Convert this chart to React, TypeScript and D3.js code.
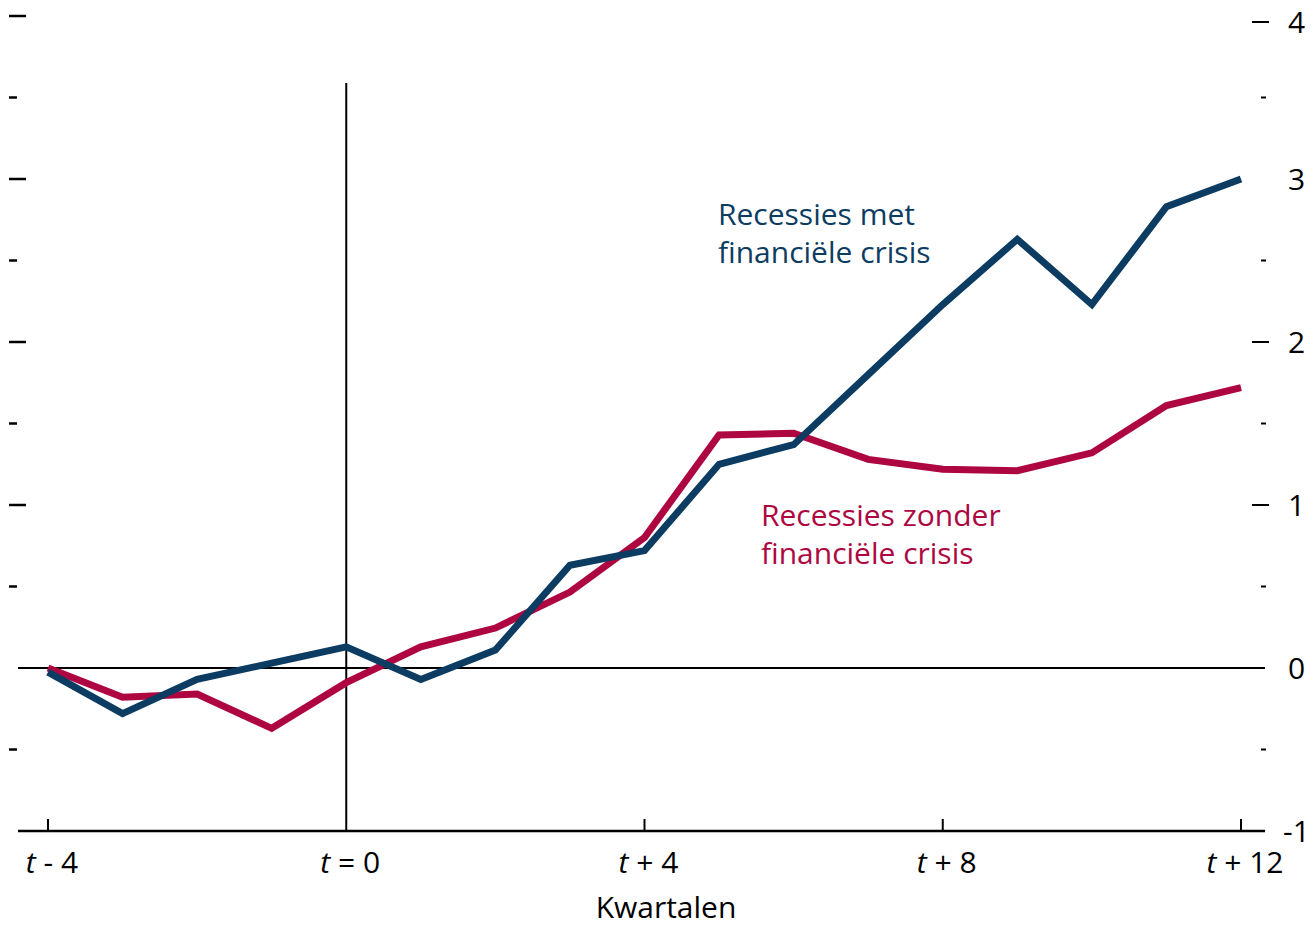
import React from "react";
import * as d3 from "d3";

const quarters = [-4, -3, -2, -1, 0, 1, 2, 3, 4, 5, 6, 7, 8, 9, 10, 11, 12];
const metCrisis = [-0.025, -0.28, -0.07, 0.03, 0.13, -0.07, 0.11, 0.63, 0.72, 1.25, 1.37, 1.8, 2.23, 2.63, 2.23, 2.83, 3.0];
const zonderCrisis = [0.0, -0.18, -0.16, -0.37, -0.09, 0.13, 0.245, 0.466, 0.8, 1.43, 1.44, 1.28, 1.22, 1.21, 1.32, 1.61, 1.72];
const xTicks = [-4, 0, 4, 8, 12];
const xTickLabels = ["- 4", "= 0", "+ 4", "+ 8", "+ 12"];
const yMajor = [4, 3, 2, 1, 0, -1];
const yMinor = [3.5, 2.5, 1.5, 0.5, -0.5];
const rightDashTicks = [4, 2, 1];
const xTitle = "Kwartalen";
const labelMet = ["Recessies met", "financiële crisis"];
const labelZonder = ["Recessies zonder", "financiële crisis"];

const BLUE = "#0c3c62";
const RED = "#ad0641";
const FONT = "'Open Sans', 'Noto Sans', sans-serif";
const FS = 30;

export default function App() {
  const W = 1311, H = 927;
  const x = d3.scaleLinear().domain([-4, 12]).range([48, 1241]);
  const y = d3.scaleLinear().domain([-1, 4]).range([831, 16]);
  const line = d3.line<number>().x((_, i) => x(quarters[i])).y(d => y(d));

  return (
    <svg width={W} height={H} style={{ position: "absolute", left: 0, top: 0, background: "#fff" }} fontFamily={FONT}>
      {/* left ticks */}
      {yMajor.filter(v => v !== 0 && v !== -1).map(v => (
        <line key={"lm" + v} x1={9} x2={26} y1={y(v)} y2={y(v)} stroke="#000" strokeWidth={2.5} />
      ))}
      {yMinor.map(v => (
        <line key={"ln" + v} x1={9} x2={17} y1={y(v)} y2={y(v)} stroke="#000" strokeWidth={2.5} />
      ))}
      {/* right ticks */}
      {rightDashTicks.map(v => (
        <line key={"rm" + v} x1={1252} x2={1269} y1={Math.max(y(v), 22)} y2={Math.max(y(v), 22)} stroke="#000" strokeWidth={2} />
      ))}
      {yMinor.map(v => (
        <line key={"rn" + v} x1={1261} x2={1266} y1={y(v)} y2={y(v)} stroke="#000" strokeWidth={2} />
      ))}
      {yMajor.map(v => (
        <text key={"rl" + v} x={v < 0 ? 1283 : 1288} y={Math.max(y(v), 22)} dy="0.35em" fontSize={FS} fill="#000">{v}</text>
      ))}
      {/* zero line */}
      <line x1={18} x2={1265} y1={y(0)} y2={y(0)} stroke="#000" strokeWidth={2} />
      {/* x axis */}
      <line x1={18} x2={1265} y1={y(-1)} y2={y(-1)} stroke="#000" strokeWidth={2.5} />
      {xTicks.filter(v => v !== 0).map(v => (
        <line key={"xt" + v} x1={x(v)} x2={x(v)} y1={y(-1)} y2={y(-1) - 12} stroke="#000" strokeWidth={2} />
      ))}
      {/* vertical t=0 line */}
      <line x1={x(0)} x2={x(0)} y1={83} y2={y(-1)} stroke="#000" strokeWidth={2} />
      {xTicks.map((v, i) => (
        <text key={"xl" + v} x={x(v) + 4} y={873} textAnchor="middle" fontSize={FS} fill="#000">
          <tspan fontStyle="italic">t</tspan>
          <tspan>{" " + xTickLabels[i]}</tspan>
        </text>
      ))}
      <text x={666} y={918} textAnchor="middle" fontSize={FS} fill="#000">{xTitle}</text>
      {/* series */}
      <path d={line(zonderCrisis) || ""} fill="none" stroke={RED} strokeWidth={7} strokeLinejoin="miter" />
      <path d={line(metCrisis) || ""} fill="none" stroke={BLUE} strokeWidth={7} strokeLinejoin="miter" />
      {/* annotations */}
      <text x={718} y={225} fontSize={FS} fill={BLUE}>
        <tspan x={718}>{labelMet[0]}</tspan>
        <tspan x={718} dy={38}>{labelMet[1]}</tspan>
      </text>
      <text x={761} y={526} fontSize={FS} fill={RED}>
        <tspan x={761}>{labelZonder[0]}</tspan>
        <tspan x={761} dy={38}>{labelZonder[1]}</tspan>
      </text>
    </svg>
  );
}
